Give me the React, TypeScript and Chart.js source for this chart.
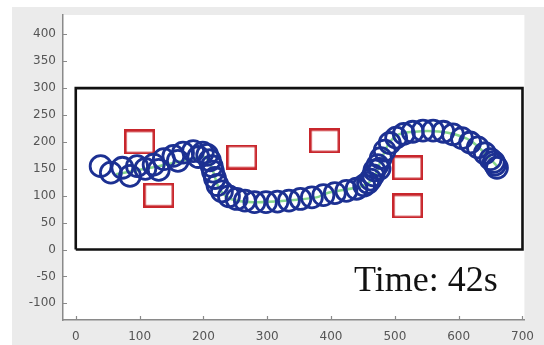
import React, { useEffect, useRef } from "react";
import { Chart, registerables } from "chart.js";

Chart.register(...registerables);

// Robot positions (circle centres)
const circleX = [39, 55, 73, 85, 96, 109, 122, 130, 138, 153, 160, 168, 184, 192, 199,
  206, 210, 213, 215, 218, 222, 229, 240,
  252, 265, 280, 298, 316, 334, 352, 370, 388, 406, 424, 440, 452,
  458, 462, 466, 468, 473, 476, 478, 484, 492, 502, 514, 528, 544, 560, 576, 591, 605, 618, 630, 641, 650, 655, 657, 660];
const circleY = [155, 143, 152, 137, 155, 150, 158, 148, 168, 174, 165, 180, 183, 172, 180,
  176, 166, 155, 145, 133, 120, 108, 99,
  94, 91, 88, 88, 89, 91, 94, 97, 101, 105, 109, 113, 119,
  124, 130, 138, 147, 157, 150, 170, 184, 198, 208, 215, 219, 221, 221, 219, 214, 207, 199, 190, 179, 168, 163, 158, 152];

// Planned path (green line)
const pathX = [63, 130, 202, 210, 215, 225, 243, 279, 331, 377, 397, 449, 467, 478, 490, 506, 542, 583, 619, 650, 660];
const pathY = [140, 155, 172, 160, 146, 113, 94, 88, 91, 97, 106, 118, 134, 165, 196, 214, 220, 217, 202, 168, 155];

// Obstacles (red squares)
const boxX = [100, 130, 260, 390, 520, 520];
const boxY = [200, 101, 172, 202, 152, 81];

// Arena boundary
const arenaX = [0, 700, 700, 0, 0];
const arenaY = [0, 0, 300, 300, 0];

const xTicks = [0, 100, 200, 300, 400, 500, 600, 700];
const yTicks = [-100, -50, 0, 50, 100, 150, 200, 250, 300, 350, 400];

const timeLabel = "Time: 42s";
const timeLabelPos = { x: 436, y: -77 };

const toPts = (xs: number[], ys: number[]) => xs.map((x, i) => ({ x, y: ys[i] }));

export default function App() {
  const ref = useRef<HTMLCanvasElement | null>(null);

  useEffect(() => {
    document.body.style.margin = "0";
    const canvas = ref.current;
    if (!canvas) return;

    const sq = document.createElement("canvas");
    sq.width = 31;
    sq.height = 25;
    const sctx = sq.getContext("2d")!;
    sctx.strokeStyle = "#c8262c";
    sctx.lineWidth = 2.6;
    sctx.strokeRect(1.3, 1.3, 31 - 2.6, 25 - 2.6);

    const bgPlugin = {
      id: "bg",
      beforeDraw(chart: any) {
        const { ctx, chartArea } = chart;
        ctx.save();
        ctx.fillStyle = "#ffffff";
        ctx.fillRect(0, 0, chart.width, chart.height);
        ctx.fillStyle = "#ebebeb";
        ctx.fillRect(12, 7, chart.width - 12, chart.height - 7);
        ctx.fillStyle = "#ffffff";
        ctx.fillRect(chartArea.left, chartArea.top, chartArea.right - chartArea.left, chartArea.bottom - chartArea.top);
        ctx.restore();
      },
      afterDraw(chart: any) {
        const { ctx, chartArea, scales } = chart;
        const xs = scales.x;
        const ys = scales.y;
        ctx.save();
        ctx.strokeStyle = "#8a8a8a";
        ctx.lineWidth = 1.2;
        ctx.beginPath();
        xTicks.forEach((v) => {
          const px = Math.round(xs.getPixelForValue(v)) + 0.5;
          ctx.moveTo(px, chartArea.bottom);
          ctx.lineTo(px, chartArea.bottom - 4);
        });
        yTicks.forEach((v) => {
          const py = Math.round(ys.getPixelForValue(v)) + 0.5;
          ctx.moveTo(chartArea.left, py);
          ctx.lineTo(chartArea.left + 4, py);
        });
        ctx.stroke();
        ctx.fillStyle = "#111111";
        ctx.font = '36px "Liberation Serif"';
        ctx.textAlign = "left";
        ctx.textBaseline = "alphabetic";
        ctx.fillText(timeLabel, xs.getPixelForValue(timeLabelPos.x), ys.getPixelForValue(timeLabelPos.y));
        ctx.restore();
      },
    };

    const tickFont = { family: "DejaVu Sans", size: 12 };

    const chart = new Chart(canvas, {
      type: "scatter",
      data: {
        datasets: [
          {
            data: toPts(circleX, circleY),
            showLine: false,
            pointRadius: 10.5,
            pointBorderWidth: 2.8,
            pointBorderColor: "#1c3092",
            pointBackgroundColor: "rgba(0,0,0,0)",
          },
          {
            data: toPts(pathX, pathY),
            showLine: true,
            borderColor: "#86d68c",
            borderWidth: 2.5,
            pointRadius: 0,
            tension: 0.3,
          },
          {
            data: toPts(boxX, boxY),
            showLine: false,
            pointStyle: sq as any,
            pointRadius: 14,
          },
          {
            data: toPts(arenaX, arenaY),
            showLine: true,
            borderColor: "#111111",
            borderWidth: 2.6,
            borderJoinStyle: "miter",
            pointRadius: 0,
            tension: 0,
          },
        ],
      },
      options: {
        animation: false,
        responsive: false,
        events: [],
        layout: { padding: { left: 12, right: 12, top: 14, bottom: 0 } },
        plugins: { legend: { display: false }, tooltip: { enabled: false } },
        scales: {
          x: {
            type: "linear",
            min: -20,
            max: 703,
            afterBuildTicks: (s: any) => {
              s.ticks = xTicks.map((v) => ({ value: v }));
            },
            afterFit: (s: any) => {
              s.height = 25;
            },
            grid: { display: false, drawTicks: false },
            border: { display: true, color: "#8a8a8a", width: 1.5 },
            ticks: { color: "#555555", font: tickFont, padding: 10, maxRotation: 0, autoSkip: false },
          },
          y: {
            type: "linear",
            min: -131,
            max: 436,
            afterBuildTicks: (s: any) => {
              s.ticks = yTicks.map((v) => ({ value: v }));
            },
            afterFit: (s: any) => {
              s.width = 51;
            },
            grid: { display: false, drawTicks: false },
            border: { display: true, color: "#8a8a8a", width: 1.5 },
            ticks: { color: "#555555", font: tickFont, padding: 7, autoSkip: false },
          },
        },
      },
      plugins: [bgPlugin],
    } as any);

    return () => chart.destroy();
  }, []);

  return <canvas ref={ref} width={544} height={345} style={{ display: "block", width: 544, height: 345 }} />;
}
